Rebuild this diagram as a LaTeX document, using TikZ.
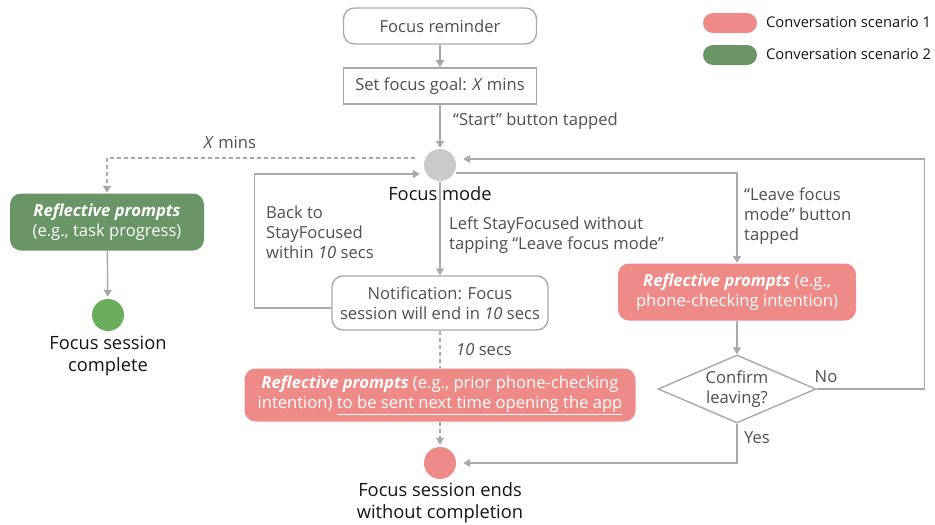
\documentclass[tikz,border=0pt]{standalone}
\usepackage{fontspec}
\setmainfont{Open Sans}
\usetikzlibrary{arrows.meta,positioning,shapes.geometric}

\definecolor{linegray}{HTML}{A9A9A9}
\definecolor{txtgray}{HTML}{4F4F4F}
\definecolor{dotgray}{HTML}{CACACA}
\definecolor{pinkbox}{HTML}{EE8A88}
\definecolor{greenbox}{HTML}{6A9566}
\definecolor{greendot}{HTML}{6AAE5C}

\begin{document}
\begin{tikzpicture}[
    x=1pt, y=-1pt,
    font=\fontsize{16.6}{20}\selectfont,
    flow/.style={draw=linegray, line width=1.4pt, -{Triangle[width=8pt,length=7pt]}},
    flowdash/.style={flow, dash pattern=on 4pt off 3pt},
    plain/.style={draw=linegray, line width=1.4pt},
    box/.style={draw=linegray, line width=1.4pt, rounded corners=11pt, fill=white,
        text=txtgray, align=center, inner sep=0pt},
    sbox/.style={box, rounded corners=0pt, line width=1.6pt},
    pbox/.style={box, draw=none, fill=pinkbox, text=white},
    gbox/.style={pbox, fill=greenbox},
    dot/.style={circle, minimum size=32pt, inner sep=0pt},
    decide/.style={diamond, draw=linegray, line width=1.4pt, fill=white, inner sep=0pt,
        minimum width=158pt, minimum height=68pt},
    lbl/.style={text=txtgray, align=left, inner sep=0pt},
    big/.style={text=black!92, align=center, inner sep=0pt, font=\fontsize{18.3}{22}\selectfont},
    pill/.style={rounded corners=10pt, minimum width=54pt, minimum height=20pt, inner sep=0pt}
]
    \useasboundingbox (0,0) rectangle (935,525);

    % Legend
    \node[pill, fill=pinkbox] (leg1) at (730,23) {};
    \node[pill, fill=greenbox] (leg2) at (730,55) {};
    \node[big, anchor=west, font=\fontsize{14.7}{16}\selectfont] (leg1txt) at (766,22) {Conversation scenario 1};
    \node[big, anchor=west, font=\fontsize{14.7}{16}\selectfont] (leg2txt) at (766,54) {Conversation scenario 2};

    % Top: reminder and goal
    \node[box, minimum width=193pt, minimum height=36pt] (remind) at (440,26) {Focus reminder};
    \node[sbox, minimum width=193pt, minimum height=36pt] (goal) at (440,86) {Set focus goal: \textit{X} mins};
    \node[dot, fill=dotgray] (focus) at (440,165) {};
    \node[big] (focustxt) at (440,194) {Focus mode};

    \draw[flow] (remind) -- (goal);
    \draw[flow, shorten >=1pt] (goal) -- (focus);
    \node[lbl, anchor=west] (starttxt) at (453,121) {“Start” button tapped};

    % Scenario 2: session complete
    \node[gbox, minimum width=194pt, minimum height=57pt] (green) at (107,222)
        {\bfseries\itshape Reflective prompts\\(e.g., task progress)};
    \node[dot, fill=greendot] (gdot) at (108,315) {};
    \node[big] (gdonetxt) at (108,356) {Focus session\\complete};
    \draw[flowdash, shorten <=9pt] ([yshift=7pt]focus.west) -| (green.north);
    \node[lbl] (xmins) at (230,142) {\textit{X} mins};
    \draw[flow, shorten >=2pt] (green) -- (gdot);

    % Middle: notification
    \node[box, minimum width=216pt, minimum height=54pt] (notify) at (440,303)
        {Notification: Focus\\session will end in \textit{10} secs};
    \draw[flow, shorten <=1pt] (focus) -- (notify);
    \node[lbl, anchor=west] (lefttxt) at (449,235) {Left StayFocused without\\tapping “Leave focus mode”};
    \draw[flow, shorten >=4pt] ([yshift=-5pt]notify.west) -- ++(-77,0) |- ([yshift=-9pt]focus.west);
    \node[lbl, anchor=west] (backtxt) at (266,232) {Back to\\StayFocused\\within \textit{10} secs};

    % Scenario 1: leave later
    \node[pbox, minimum width=391pt, minimum height=53pt] (pinkC) at (440,395)
        {\textbf{\textit{Reflective prompts}} (e.g., prior phone-checking\\intention) \underline{to be sent next time opening the app}};
    \draw[plain, dash pattern=on 4pt off 3pt] (notify) -- (pinkC);
    \node[lbl, anchor=west] (tensecs) at (456,350) {\textit{10} secs};
    \node[dot, fill=pinkbox] (pdot) at (440,463) {};
    \draw[flowdash, shorten >=2pt] (pinkC) -- (pdot);
    \node[big] (pdonetxt) at (440,503) {Focus session ends\\without completion};

    % Scenario 1: leave now
    \node[pbox, minimum width=238pt, minimum height=57pt] (pinkB) at (737,292)
        {\textbf{\textit{Reflective prompts}} (e.g.,\\phone-checking intention)};
    \draw[flow] ([yshift=-8pt]focus.east) -| (pinkB.north);
    \node[lbl, anchor=west] (leavetxt) at (744,216) {“Leave focus\\mode” button\\tapped};
    \node[decide] (confirm) at (737,389) {};
    \node[lbl, align=center] (confirmtxt) at (confirm) {Confirm\\leaving?};
    \draw[flow] (pinkB) -- (confirm);
    \draw[flow, shorten >=7pt] (confirm.east) -- ++(108,0) |- ([yshift=6pt]focus.east);
    \node[lbl] (notxt) at (826,377) {No};
    \draw[flow, shorten >=7pt] (confirm.south) |- (pdot.east);
    \node[lbl] (yestxt) at (757,438) {Yes};
\end{tikzpicture}
\end{document}
